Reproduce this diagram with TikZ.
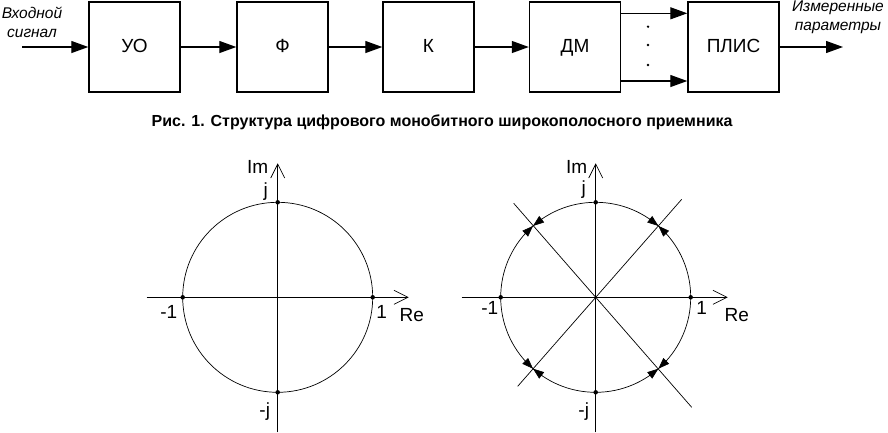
\documentclass[tikz,border=0pt]{standalone}
\usepackage{fontspec}
\setmainfont{Liberation Sans}
\usetikzlibrary{arrows.meta}
\begin{document}
\begin{tikzpicture}[x=1pt,y=-1pt,
  blk/.style={draw,line width=1.4pt,minimum width=91pt,minimum height=90pt,inner sep=0pt,text height=13.6pt,text depth=3pt,font=\fontsize{19}{22}\selectfont},
  conn/.style={line width=1.2pt,-{Triangle[length=17pt,width=12pt]}},
  itl/.style={font=\fontsize{15.5}{19}\selectfont\itshape,align=center,inner sep=0pt},
  ax/.style={line width=0.7pt,-{Straight Barb[length=14pt,width=14pt,line width=0.7pt]}},
  thin/.style={line width=0.7pt},
  lbl/.style={font=\fontsize{19}{21}\selectfont,inner sep=0pt},
  pt/.style={fill,circle,inner sep=0pt,minimum size=4.5pt},
  ctip/.style={line width=0.6pt,-{Triangle[length=11pt,width=8pt]}}
]
\useasboundingbox (0,0) rectangle (888,432);
% block diagram
\node[blk] (uo) at (134.5,47) {УО};
\node[blk] (f) at (282.5,47) {Ф};
\node[blk] (k) at (428.5,47) {К};
\node[blk] (dm) at (575,47) {ДМ};
\node[blk] (plis) at (733.5,47) {ПЛИС};
\coordinate (in) at (22,47);
\coordinate (out) at (843,47);
\draw[conn] (in) -- (uo);
\draw[conn] (uo) -- (f);
\draw[conn] (f) -- (k);
\draw[conn] (k) -- (dm);
\draw[conn] ([yshift=33.7pt]dm.east) -- ([yshift=33.7pt]plis.west);
\draw[conn] ([yshift=-34pt]dm.east) -- ([yshift=-34pt]plis.west);
\draw[conn] (plis) -- (out);
\foreach \yy in {26.7,45,65} \fill (648,\yy) circle (1.3pt);
\node[itl] (inlbl) at (32,22) {Входной\\сигнал};
\node[itl] (outlbl) at (838,17) {Измеренные\\параметры};
\node[font=\fontsize{16}{18}\selectfont\bfseries,inner sep=0pt] (cap) at (442,122) {Рис. 1. Структура цифрового монобитного широкополосного приемника};
% left plot
\begin{scope}[shift={(277.7,297.3)}]
  \draw[thin] (0,0) circle (95);
  \draw[ax] (-131,0) -- (131,0);
  \draw[ax] (0,135) -- (0,-134);
  \foreach \p in {(95,0),(-95,0),(0,95),(0,-95)} \node[pt] at \p {};
  \node[lbl] (lim) at (-20,-130) {Im};
  \node[lbl] (lj) at (-12,-106) {j};
  \node[lbl] (lm1) at (-109,15) {-1};
  \node[lbl] (l1) at (104,15) {1};
  \node[lbl] (lre) at (134,18) {Re};
  \node[lbl] (lmj) at (-13,114) {-j};
\end{scope}
% right plot
\begin{scope}[shift={(595.7,297.3)}]
  \draw[thin] (0,0) circle (95);
  \draw[ax] (-134,0) -- (132,0);
  \draw[ax] (0,135) -- (0,-134);
  \draw[thin] (-82,-94) -- (96,110);
  \draw[thin] (86,-98) -- (-78,89);
  \foreach \p in {(95,0),(-95,0),(0,95),(0,-95)} \node[pt] at \p {};
  \foreach \a in {48.7,131.3,228.7,311.3} {
    \draw[ctip] (\a+7:95) -- (\a:95);
    \draw[ctip] (\a-7:95) -- (\a:95);
  }
  \node[lbl] (rim) at (-19,-130) {Im};
  \node[lbl] (rj) at (-12,-108) {j};
  \node[lbl] (rm1) at (-106,11) {-1};
  \node[lbl] (r1) at (106,11) {1};
  \node[lbl] (rre) at (141,18) {Re};
  \node[lbl] (rmj) at (-12,114) {-j};
\end{scope}
\end{tikzpicture}
\end{document}
